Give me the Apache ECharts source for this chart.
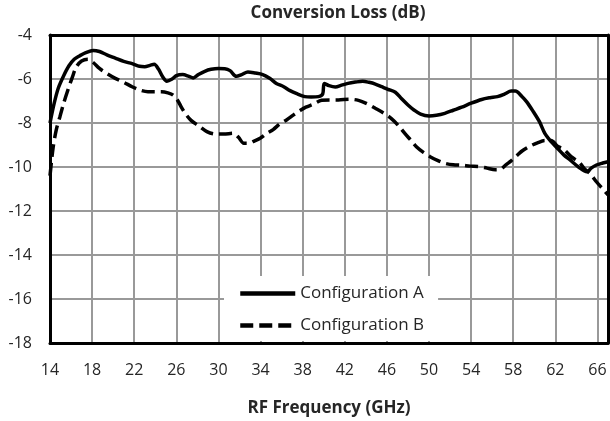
<!DOCTYPE html>
<html>
<head>
<meta charset="utf-8">
<script src="https://cdn.jsdelivr.net/npm/echarts@6/dist/echarts.min.js"></script>
<style>
  html, body { margin: 0; padding: 0; background: #fff; }
  #chart { width: 610px; height: 421px; }
</style>
</head>
<body>
<div id="chart"></div>
<script>
// RF frequency (GHz) and conversion loss (dB)
const freqA = [14.0, 14.4, 14.8, 15.3, 15.8, 16.3, 16.8, 17.4, 18.1, 18.7, 19.4, 20.2, 21.0, 21.8, 22.5, 23.0, 23.5, 23.9, 24.3, 24.7,
  25.1, 25.6, 26.0, 26.6, 27.2, 27.6, 28.1, 28.7, 29.3, 30.0, 30.6, 31.1, 31.7, 32.2, 32.8, 33.5, 34.2, 34.9, 35.5, 36.2,
  36.8, 37.5, 38.2, 38.8, 39.5, 39.9, 40.05, 40.5, 41.1, 41.7, 42.3, 43.0, 43.7, 44.3, 44.9, 45.5, 46.1, 46.8, 47.4, 48.0,
  48.6, 49.2, 50.0, 50.7, 51.5, 52.3, 53.1, 54.0, 55.0, 55.8, 56.5, 57.2, 57.8, 58.2, 58.8, 59.3, 59.9, 60.5, 61.0, 61.6,
  62.1, 62.8, 63.4, 64.2, 65.0, 65.4, 65.9, 66.5, 67.0];
const lossA = [-8.0, -7.1, -6.4, -5.85, -5.4, -5.1, -4.95, -4.8, -4.7, -4.75, -4.9, -5.05, -5.2, -5.3, -5.42, -5.44, -5.38, -5.33, -5.55, -5.9,
  -6.1, -6.0, -5.85, -5.8, -5.88, -5.95, -5.8, -5.65, -5.56, -5.52, -5.53, -5.62, -5.88, -5.8, -5.68, -5.73, -5.8, -5.98, -6.2, -6.35,
  -6.53, -6.68, -6.8, -6.82, -6.8, -6.68, -6.2, -6.3, -6.36, -6.28, -6.2, -6.14, -6.1, -6.15, -6.23, -6.35, -6.47, -6.6, -6.9, -7.18,
  -7.42, -7.6, -7.68, -7.65, -7.56, -7.42, -7.28, -7.1, -6.93, -6.85, -6.8, -6.68, -6.55, -6.55, -6.78, -7.05, -7.48, -7.95, -8.47, -8.85,
  -9.1, -9.45, -9.68, -10.0, -10.22, -10.05, -9.91, -9.82, -9.76];

const freqB = [14.0, 14.3, 14.6, 14.95, 15.3, 15.7, 16.1, 16.5, 17.0, 17.6, 18.1, 18.7, 19.4, 20.2, 21.0, 21.8, 22.5, 23.3, 24.0, 24.6,
  25.2, 25.7, 26.1, 26.5, 26.9, 27.4, 28.1, 28.9, 29.7, 30.5, 31.4, 31.9, 32.4, 32.9, 33.4, 34.0, 34.6, 35.2, 35.8, 36.5,
  37.1, 37.7, 38.3, 39.0, 39.8, 40.6, 41.4, 42.4, 43.3, 44.1, 44.9, 45.7, 46.4, 47.1, 47.7, 48.3, 48.8, 49.5, 50.1, 50.8,
  51.5, 52.3, 53.1, 53.9, 54.7, 55.5, 56.3, 56.8, 57.3, 57.8, 58.3, 58.9, 59.6, 60.3, 61.0, 61.6, 62.2, 62.8, 63.5, 64.3,
  64.8, 65.3, 65.9, 66.5, 67.0];
const lossB = [-10.4, -9.1, -8.3, -7.7, -7.1, -6.5, -5.95, -5.45, -5.18, -5.1, -5.25, -5.52, -5.75, -5.97, -6.15, -6.35, -6.5, -6.58, -6.58, -6.58,
  -6.63, -6.73, -6.95, -7.3, -7.6, -7.88, -8.12, -8.39, -8.5, -8.5, -8.47, -8.65, -8.92, -8.92, -8.82, -8.68, -8.47, -8.3, -8.05, -7.85,
  -7.64, -7.45, -7.28, -7.15, -6.97, -6.95, -6.95, -6.92, -6.97, -7.12, -7.33, -7.55, -7.79, -8.12, -8.47, -8.8, -9.08, -9.35, -9.53, -9.7,
  -9.83, -9.9, -9.92, -9.96, -9.98, -10.05, -10.12, -10.1, -9.9, -9.72, -9.5, -9.25, -9.05, -8.9, -8.8, -8.8, -9.05, -9.2, -9.53, -9.8,
  -10.1, -10.3, -10.67, -11.0, -11.27];

const seriesNames = ["Configuration A", "Configuration B"];

const pair = (xs, ys) => xs.map((x, i) => [x, ys[i]]);

const font = "'Open Sans', sans-serif";
const textColor = "#262626";

const myChart = echarts.init(document.getElementById("chart"), null, { renderer: "canvas" });

// top / right frame of the plot
const borderAxis = {
  show: true,
  axisLine: { show: true, lineStyle: { color: "#000", width: 3 } },
  axisTick: { show: false },
  axisLabel: { show: false },
  splitLine: { show: false },
};

const option = {
  animation: false,
  backgroundColor: "#fff",
  title: {
    text: "Conversion Loss (dB)",
    left: 333,
    top: 0,
    textAlign: "center",
    textStyle: { fontFamily: font, fontSize: 17, fontWeight: "bold", color: textColor },
  },
  grid: {
    left: 50,
    right: 2,
    top: 35,
    bottom: 78,
    outerBoundsMode: "none",
  },
  legend: {
    data: seriesNames,
    orient: "vertical",
    left: 224,
    top: 276,
    padding: [9, 14, 7, 14],
    itemGap: 15,
    itemWidth: 55,
    itemHeight: 14,
    itemTextGap: 5,
    backgroundColor: "#fff",
    itemStyle: { opacity: 0, borderWidth: 0 },
    lineStyle: { width: 4.5 },
    textStyle: { fontFamily: font, fontSize: 17, color: textColor },
  },
  xAxis: [
    {
      type: "value",
      min: 14,
      max: 67,
      interval: 4,
      name: "RF Frequency (GHz)",
      nameLocation: "middle",
      nameGap: 57,
      nameTextStyle: { fontFamily: font, fontSize: 17, fontWeight: "bold", color: textColor },
      axisLine: { show: true, lineStyle: { color: "#000", width: 3 } },
      axisTick: { show: false },
      axisLabel: {
        margin: 19,
        showMaxLabel: false,
        fontFamily: font,
        fontSize: 16,
        color: textColor,
      },
      splitLine: { show: true, lineStyle: { color: "#999", width: 2 } },
    },
    Object.assign({ type: "value", min: 14, max: 67, position: "top" }, borderAxis),
  ],
  yAxis: [
    {
      type: "value",
      min: -18,
      max: -4,
      interval: 2,
      axisLine: { show: true, lineStyle: { color: "#000", width: 3 } },
      axisTick: { show: false },
      axisLabel: {
        margin: 18,
        fontFamily: font,
        fontSize: 16,
        color: textColor,
      },
      splitLine: { show: true, lineStyle: { color: "#999", width: 2 } },
    },
    Object.assign({ type: "value", min: -18, max: -4, position: "right" }, borderAxis),
  ],
  series: [
    {
      name: seriesNames[0],
      type: "line",
      data: pair(freqA, lossA),
      symbol: "none",
      smooth: 0.3,
      lineStyle: { color: "#000", width: 3.5 },
      itemStyle: { color: "#000" },
      z: 5,
    },
    {
      name: seriesNames[1],
      type: "line",
      data: pair(freqB, lossB),
      symbol: "none",
      smooth: 0.3,
      lineStyle: { color: "#000", width: 3.5, type: [13, 6] },
      itemStyle: { color: "#000" },
      z: 4,
    },
  ],
};

myChart.setOption(option);
</script>
</body>
</html>
